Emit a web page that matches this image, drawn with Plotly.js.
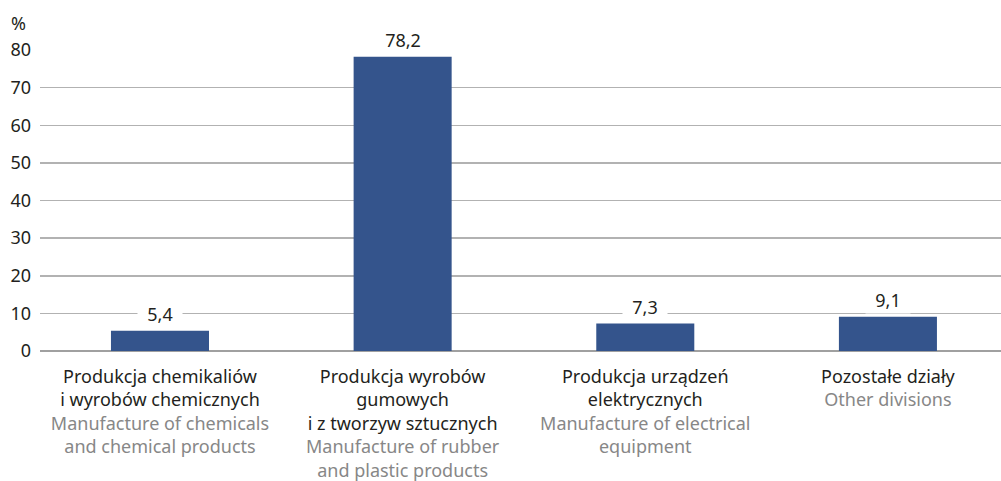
<!DOCTYPE html>
<html>
<head>
<meta charset="utf-8">
<script src="https://cdn.plot.ly/plotly-3.0.1.min.js"></script>
<style>
  body { margin: 0; padding: 0; background: #fff; }
  #chart { width: 1001px; height: 481px; }
</style>
</head>
<body>
<div id="chart"></div>
<script>
const categoriesPl = [
    'Produkcja chemikaliów<br>i wyrobów chemicznych',
    'Produkcja wyrobów<br>gumowych<br>i z tworzyw sztucznych',
    'Produkcja urządzeń<br>elektrycznych',
    'Pozostałe działy'
];
const categoriesEn = [
    'Manufacture of chemicals<br>and chemical products',
    'Manufacture of rubber<br>and plastic products',
    'Manufacture of electrical<br>equipment',
    'Other divisions'
];
const shares = [5.4, 78.2, 7.3, 9.1];
const yTicks = [0, 10, 20, 30, 40, 50, 60, 70, 80];

const blue = '#34548c';
const grey = '#878787';

const positions = shares.map(function (v, i) { return i; });
const tickText = categoriesPl.map(function (pl, i) {
    return pl + '<br><span style="color:' + grey + '">' + categoriesEn[i] + '</span>';
});

const trace = {
    x: positions,
    y: shares,
    type: 'bar',
    marker: { color: blue },
    hoverinfo: 'none'
};

// value labels with white box so the grid lines break around them
const labels = shares.map(function (v, i) {
    return {
        x: i,
        y: v,
        text: String(v).replace('.', ','),
        showarrow: false,
        yanchor: 'bottom',
        yshift: 3,
        width: 42,
        bgcolor: '#ffffff',
        borderpad: 1,
        font: { size: 18, color: '#231f20' }
    };
});
labels.push({
    xref: 'paper', yref: 'paper',
    x: -0.022, y: 1.0,
    xanchor: 'center', yanchor: 'bottom',
    yshift: 13,
    text: '%',
    showarrow: false,
    font: { size: 18, color: '#231f20' }
});

const layout = {
    width: 1001,
    height: 481,
    margin: { l: 40, r: 0, t: 50, b: 130 },
    paper_bgcolor: '#ffffff',
    plot_bgcolor: '#ffffff',
    font: { family: 'Noto Sans, sans-serif', size: 18, color: '#231f20' },
    showlegend: false,
    bargap: 0.596,
    xaxis: {
        range: [-0.4945, 3.466],
        tickmode: 'array',
        tickvals: positions,
        ticktext: tickText,
        showgrid: false,
        zeroline: false,
        showline: false,
        ticks: '',
        ticklabelstandoff: 13,
        fixedrange: true
    },
    yaxis: {
        range: [0, 80],
        tickmode: 'array',
        tickvals: yTicks,
        ticktext: yTicks.map(String),
        showgrid: true,
        gridcolor: '#b2b2b2',
        gridwidth: 1.5,
        zeroline: true,
        zerolinecolor: '#a0a0a0',
        zerolinewidth: 1.5,
        ticks: '',
        ticklabelstandoff: 8,
        fixedrange: true
    },
    annotations: labels
};

Plotly.newPlot('chart', [trace], layout, { displayModeBar: false, staticPlot: true });
</script>
</body>
</html>
